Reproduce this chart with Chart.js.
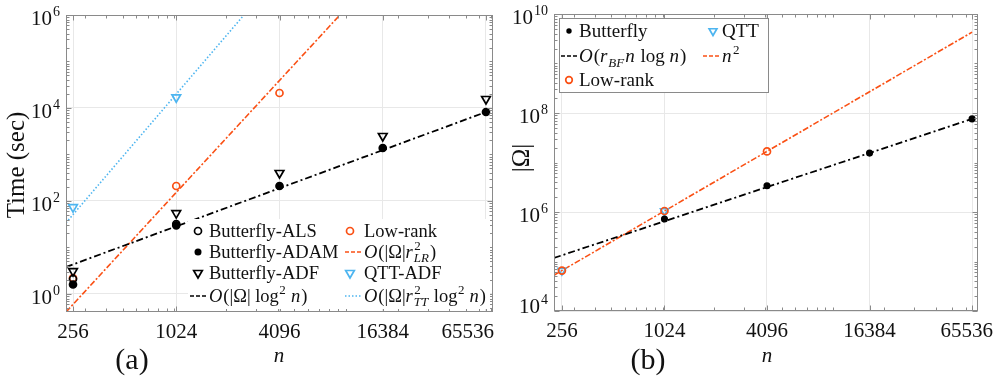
<!DOCTYPE html>
<html><head><meta charset="utf-8">
<script src="https://cdn.jsdelivr.net/npm/chart.js@4"></script>
<style>
html,body{margin:0;padding:0;background:#fff;}
#wrap{position:relative;width:996px;height:388px;overflow:hidden;background:#fff;}
.c{position:absolute;top:0;}
.pre{position:absolute;left:-1000px;top:0;font-family:"Liberation Serif";}
</style></head><body>
<div class="pre">Aa <i>Aa</i></div>
<div id="wrap">
<div class="c" style="left:0;width:500px;height:388px"><canvas id="ca" width="500" height="388"></canvas></div>
<div class="c" style="left:500px;width:496px;height:388px"><canvas id="cb" width="496" height="388"></canvas></div>
</div>
<script>
// ---------- data ----------
const nTicks = [256, 1024, 4096, 16384, 65536];
const nTickLabels = ['256', '1024', '4096', '16384', '65536'];

// (a) run time in seconds
const nALS = [256, 1024];
const timeALS = [2.1, 32];
const nADAM = [256, 1024, 4096, 16384, 65536];
const timeADAM = [1.6, 30, 210, 1380, 8200];
const nADF = [256, 1024, 4096, 16384, 65536];
const timeADF = [3.1, 55, 400, 2500, 15600];
const nLowRankA = [256, 1024, 4096];
const timeLowRank = [2.2, 210, 21000];
const nQTTA = [256, 1024];
const timeQTT = [74, 17000];
const nFitBF_A = [233, 65536];
const timeFitBF = [3.8, 8200];
const nFitLR_A = [233, 16384];
const timeFitLR = [0.41, 1.0e7];
const nFitTT_A = [233, 4096];
const timeFitTT = [34, 7.8e6];
const yTicksA = [1, 100, 1e4, 1e6];

// (b) |Omega|
const nButterflyB = [1024, 4096, 16384, 65536];
const omegaButterfly = [7.2e5, 3.4e6, 1.55e7, 7.6e7];
const nLowRankB = [256, 1024, 4096];
const omegaLowRank = [65536, 1048576, 16777216];
const nQTTB = [256, 1024];
const omegaQTT = [65536, 1048576];
const nFitBF_B = [230, 65536];
const omegaFitBF = [1.18e5, 7.6e7];
const nFitN2 = [230, 65536];
const omegaFitN2 = [52900, 4294967296];
const yTicksB = [1e4, 1e6, 1e8, 1e10];

// ---------- style ----------
const SERIF = '"Liberation Serif", "Times New Roman", serif';
const ORANGE = '#FA5014', BLUE = '#4DB5F0', BOX = '#8a8a8a', GRID = '#E8E8E8', TXT = '#111';
function font(s, it) { return (it ? 'italic ' : '') + s + 'px ' + SERIF; }
function pts(xs, ys) { return xs.map((v, i) => ({x: v, y: ys[i]})); }

function richText(ctx, x, y, segs, size) {
  let cx = x;
  ctx.textAlign = 'left'; ctx.textBaseline = 'alphabetic'; ctx.fillStyle = TXT;
  for (const s of segs) {
    if (s.sup !== undefined || s.sub !== undefined) {
      const ss = Math.round(size * 0.68);
      let w = 0;
      if (s.sup !== undefined) { ctx.font = font(ss, false); ctx.fillText(s.sup, cx + 0.5, y - size * 0.42); w = Math.max(w, ctx.measureText(s.sup).width); }
      if (s.sub !== undefined) { ctx.font = font(ss, true); ctx.fillText(s.sub, cx, y + size * 0.24); w = Math.max(w, ctx.measureText(s.sub).width); }
      cx += w + 1;
    } else {
      ctx.font = font(size, !!s.i);
      ctx.fillText(s.t, cx, y);
      cx += ctx.measureText(s.t).width + (s.i ? size * 0.05 : 0);
    }
  }
  return cx;
}
function marker(ctx, type, x, y, color, r, lw) {
  ctx.save(); ctx.lineWidth = lw || 1.6; ctx.strokeStyle = color; ctx.fillStyle = color; ctx.setLineDash([]);
  ctx.beginPath();
  if (type === 'dot') { ctx.arc(x, y, r, 0, 2 * Math.PI); ctx.fill(); }
  else if (type === 'ring') { ctx.arc(x, y, r, 0, 2 * Math.PI); ctx.stroke(); }
  else if (type === 'tri') { ctx.moveTo(x - r * 0.866, y - r * 0.5); ctx.lineTo(x + r * 0.866, y - r * 0.5); ctx.lineTo(x, y + r); ctx.closePath(); ctx.stroke(); }
  ctx.restore();
}
function lineSample(ctx, x1, x2, y, color, dash, w) {
  ctx.save(); ctx.strokeStyle = color; ctx.lineWidth = w; ctx.setLineDash(dash);
  ctx.beginPath(); ctx.moveTo(x1, y); ctx.lineTo(x2, y); ctx.stroke(); ctx.restore();
}

function drawFrame(chart, yMajor, maxRight) {
  const {ctx, chartArea: a, scales: {x, y}} = chart;
  ctx.save();
  ctx.strokeStyle = BOX; ctx.lineWidth = 1; ctx.setLineDash([]);
  const L = Math.round(a.left) + 0.5, R = Math.round(a.right) - 0.5, T = Math.round(a.top) + 0.5, B = Math.round(a.bottom) - 0.5;
  ctx.beginPath();
  for (let e = 2; e <= 5; e++) for (let k = 1; k <= 9; k++) {
    const v = k * Math.pow(10, e);
    if (v < x.min || v > x.max) continue;
    const px = Math.round(x.getPixelForValue(v)) + 0.5;
    ctx.moveTo(px, B); ctx.lineTo(px, B - 3); ctx.moveTo(px, T); ctx.lineTo(px, T + 3);
  }
  for (const v of nTicks) {
    const px = Math.round(x.getPixelForValue(v)) + 0.5;
    ctx.moveTo(px, B); ctx.lineTo(px, B - 5); ctx.moveTo(px, T); ctx.lineTo(px, T + 5);
  }
  for (let e = -1; e <= 10; e++) for (let k = 1; k <= 9; k++) {
    const v = k * Math.pow(10, e);
    if (v < y.min || v > y.max) continue;
    const py = Math.round(y.getPixelForValue(v)) + 0.5;
    const len = yMajor.includes(v) ? 5 : 3;
    ctx.moveTo(L, py); ctx.lineTo(L + len, py); ctx.moveTo(R, py); ctx.lineTo(R - len, py);
  }
  ctx.stroke();
  ctx.strokeRect(L, T, R - L, B - T);
  ctx.fillStyle = TXT; ctx.font = font(21, false); ctx.textAlign = 'left'; ctx.textBaseline = 'alphabetic';
  nTicks.forEach((v, i) => {
    const w = ctx.measureText(nTickLabels[i]).width;
    let lx = x.getPixelForValue(v) - w / 2;
    if (lx + w > maxRight) lx = maxRight - w;
    ctx.fillText(nTickLabels[i], lx, a.bottom + 26);
  });
  yMajor.forEach(v => {
    const e = String(Math.round(Math.log10(v)));
    const py = y.getPixelForValue(v);
    ctx.font = font(14, false);
    const we = ctx.measureText(e).width;
    const right = a.left - 6;
    let base = py + 10;
    if (base > a.bottom + 2) base = a.bottom + 2;
    ctx.textAlign = 'left';
    ctx.fillText(e, right - we, base - 9);
    ctx.font = font(21, false); ctx.textAlign = 'right';
    ctx.fillText('10', right - we - 1, base);
  });
  ctx.restore();
}

function baseOptions(xmin, xmax, ymin, ymax, yTicks, W, H, pad) {
  return {
    responsive: false, animation: false, devicePixelRatio: 1,
    layout: {padding: pad},
    plugins: {legend: {display: false}, tooltip: {enabled: false}},
    scales: {
      x: {type: 'logarithmic', min: xmin, max: xmax,
        afterBuildTicks: s => { s.ticks = nTicks.map(v => ({value: v})); },
        afterFit: s => { s.height = H; },
        ticks: {display: false}, grid: {color: GRID, drawTicks: false, lineWidth: 1}, border: {display: false}},
      y: {type: 'logarithmic', min: ymin, max: ymax,
        afterBuildTicks: s => { s.ticks = yTicks.map(v => ({value: v})); },
        afterFit: s => { s.width = W; },
        ticks: {display: false}, grid: {color: GRID, drawTicks: false, lineWidth: 1}, border: {display: false}}
    }
  };
}
function lineDS(data, color, dash, w) {
  return {type: 'line', data, borderColor: color, borderWidth: w, borderDash: dash, pointRadius: 0, fill: false, tension: 0, order: 10};
}
function markDS(data, style, color, r, filled, rot) {
  return {type: 'scatter', data, showLine: false, pointStyle: style, pointRadius: r, pointRotation: rot || 0,
    pointBorderColor: color, pointBackgroundColor: filled ? color : 'rgba(0,0,0,0)', pointBorderWidth: 1.7, order: 1};
}

// ---------- chart (a) ----------
const legendA = [
  {col: 0, row: 0, kind: 'ring', color: '#000', label: [{t: 'Butterfly-ALS'}]},
  {col: 0, row: 1, kind: 'dot', color: '#000', label: [{t: 'Butterfly-ADAM'}]},
  {col: 0, row: 2, kind: 'tri', color: '#000', label: [{t: 'Butterfly-ADF'}]},
  {col: 0, row: 3, kind: 'line', color: '#000', dash: [4, 2], label: [{t: 'O', i: 1}, {t: '(|Ω| log'}, {sup: '2'}, {t: ' '}, {t: 'n', i: 1}, {t: ')'}]},
  {col: 1, row: 0, kind: 'ring', color: ORANGE, label: [{t: 'Low-rank'}]},
  {col: 1, row: 1, kind: 'line', color: ORANGE, dash: [4, 2], label: [{t: 'O', i: 1}, {t: '(|Ω|'}, {t: 'r', i: 1}, {sup: '2', sub: 'LR'}, {t: ')'}]},
  {col: 1, row: 2, kind: 'tri', color: BLUE, label: [{t: 'QTT-ADF'}]},
  {col: 1, row: 3, kind: 'line', color: BLUE, dash: [1.5, 2], label: [{t: 'O', i: 1}, {t: '(|Ω|'}, {t: 'r', i: 1}, {sup: '2', sub: 'TT'}, {t: ' log'}, {sup: '2'}, {t: ' '}, {t: 'n', i: 1}, {t: ')'}]}
];
const decoA = {
  id: 'decoA',
  afterDraw(chart) {
    const ctx = chart.ctx;
    drawFrame(chart, yTicksA, 494);
    ctx.save();
    ctx.fillStyle = '#fff'; ctx.fillRect(188, 219, 302, 90);
    const colM = [198, 350], colT = [209, 364], colL = [[190, 207], [345, 362]];
    const base = [237, 258, 279, 302];
    legendA.forEach(it => {
      const yb = base[it.row], ym = yb - 6;
      if (it.kind === 'line') lineSample(ctx, colL[it.col][0], colL[it.col][1], ym, it.color, it.dash, 1.6);
      else marker(ctx, it.kind, colM[it.col], ym, it.color, it.kind === 'tri' ? 5 : 3.5, 1.7);
      richText(ctx, colT[it.col], yb, it.label, 18.5);
    });
    ctx.fillStyle = TXT; ctx.textBaseline = 'alphabetic';
    ctx.font = font(21, true); ctx.textAlign = 'center';
    ctx.fillText('n', 279, 362);
    ctx.font = font(30, false);
    ctx.fillText('(a)', 132, 369);
    ctx.save(); ctx.translate(24, 165); ctx.rotate(-Math.PI / 2);
    ctx.font = font(25, false); ctx.textAlign = 'center';
    ctx.fillText('Time (sec)', 0, 0);
    ctx.restore();
    ctx.restore();
  }
};
const chartA = new Chart(document.getElementById('ca'), {
  data: {datasets: [
    lineDS(pts(nFitBF_A, timeFitBF), '#000', [7, 3, 2, 3], 1.8),
    lineDS(pts(nFitLR_A, timeFitLR), ORANGE, [6, 2, 2, 2], 1.6),
    lineDS(pts(nFitTT_A, timeFitTT), BLUE, [1.5, 2], 1.6),
    markDS(pts(nALS, timeALS), 'circle', '#000', 3.5, false),
    markDS(pts(nADAM, timeADAM), 'circle', '#000', 3.5, true),
    markDS(pts(nADF, timeADF), 'triangle', '#000', 5, false, 180),
    markDS(pts(nLowRankA, timeLowRank), 'circle', ORANGE, 3.5, false),
    markDS(pts(nQTTA, timeQTT), 'triangle', BLUE, 5, false, 180)
  ]},
  options: baseOptions(233, 72000, 0.41, 1e6, yTicksA, 66, 76, {top: 15, right: 7, left: 0, bottom: 0}),
  plugins: [decoA]
});

// ---------- chart (b) ----------
const legendB = [
  {col: 0, row: 0, kind: 'dot', color: '#000', r: 2.7, label: [{t: 'Butterfly'}]},
  {col: 0, row: 1, kind: 'line', color: '#000', dash: [4, 2], label: [{t: 'O', i: 1}, {t: '('}, {t: 'r', i: 1}, {sub: 'BF'}, {t: 'n', i: 1}, {t: ' log '}, {t: 'n', i: 1}, {t: ')'}]},
  {col: 0, row: 2, kind: 'ring', color: ORANGE, r: 3.3, label: [{t: 'Low-rank'}]},
  {col: 1, row: 0, kind: 'tri', color: BLUE, r: 4.5, label: [{t: 'QTT'}]},
  {col: 1, row: 1, kind: 'line', color: ORANGE, dash: [4, 2], label: [{t: 'n', i: 1}, {sup: '2'}]}
];
const decoB = {
  id: 'decoB',
  afterDraw(chart) {
    const ctx = chart.ctx;
    drawFrame(chart, yTicksB, 493);
    ctx.save();
    ctx.fillStyle = '#fff'; ctx.fillRect(59, 18, 209, 74);
    ctx.strokeStyle = BOX; ctx.lineWidth = 1; ctx.strokeRect(59.5, 18.5, 209, 74);
    const colM = [69, 213], colT = [79, 222], colL = [[61, 78], [203, 221]];
    const base = [37, 62, 86];
    legendB.forEach(it => {
      const yb = base[it.row], ym = yb - 6;
      if (it.kind === 'line') lineSample(ctx, colL[it.col][0], colL[it.col][1], ym, it.color, it.dash, 1.6);
      else marker(ctx, it.kind, colM[it.col], ym, it.color, it.r, 1.7);
      richText(ctx, colT[it.col], yb, it.label, 19);
    });
    ctx.fillStyle = TXT; ctx.textBaseline = 'alphabetic';
    ctx.font = font(21, true); ctx.textAlign = 'center';
    ctx.fillText('n', 267, 362);
    ctx.font = font(30, false);
    ctx.fillText('(b)', 148, 369);
    ctx.save(); ctx.translate(29, 158); ctx.rotate(-Math.PI / 2);
    ctx.font = font(25, false); ctx.textAlign = 'center';
    ctx.fillText('|Ω|', 0, 0);
    ctx.restore();
    ctx.restore();
  }
};
const chartB = new Chart(document.getElementById('cb'), {
  data: {datasets: [
    lineDS(pts(nFitBF_B, omegaFitBF), '#000', [7, 3, 2, 3], 1.8),
    lineDS(pts(nFitN2, omegaFitN2), ORANGE, [6, 2, 2, 2], 1.6),
    markDS(pts(nButterflyB, omegaButterfly), 'circle', '#000', 2.7, true),
    markDS(pts(nLowRankB, omegaLowRank), 'circle', ORANGE, 3.5, false),
    markDS(pts(nQTTB, omegaQTT), 'triangle', BLUE, 4.5, false, 180)
  ]},
  options: baseOptions(230, 71000, 1e4, 1e10, yTicksB, 54, 77, {top: 14, right: 18, left: 0, bottom: 0}),
  plugins: [decoB]
});

if (document.fonts && document.fonts.load) {
  Promise.all([
    document.fonts.load('21px "Liberation Serif"'),
    document.fonts.load('italic 21px "Liberation Serif"')
  ]).then(() => { chartA.render(); chartB.render(); }).catch(() => {});
}
</script>
</body></html>
